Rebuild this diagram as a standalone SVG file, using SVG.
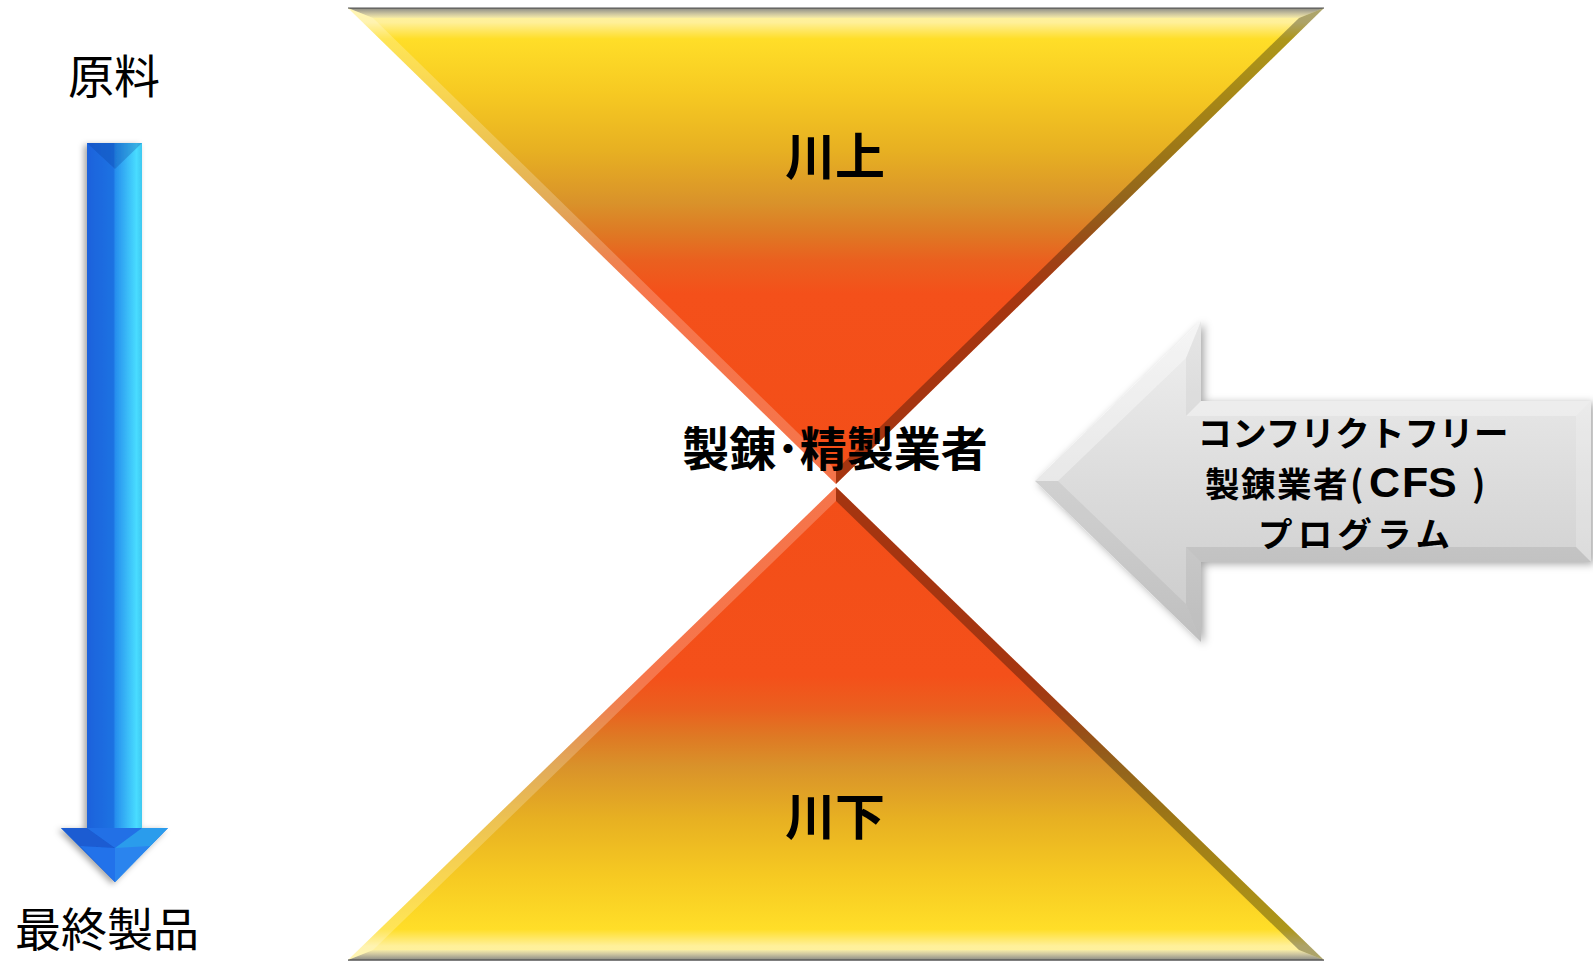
<svg xmlns="http://www.w3.org/2000/svg" width="1593" height="962" viewBox="0 0 1593 962">
<defs>
<style>
.jp{font-family:"Noto Sans CJK JP","Noto Sans CJK SC",sans-serif;fill:#000}
.lbl{font-size:46px;font-weight:400}
.big{font-size:50px;font-weight:700}
.mid{font-size:47px;font-weight:700}
.cfs{font-size:34.5px;font-weight:700}
.lat{font-family:"Liberation Sans",Arial,sans-serif;font-size:43px;font-weight:700}
</style>
<linearGradient id="gTri" x1="0" y1="8" x2="0" y2="484" gradientUnits="userSpaceOnUse">
<stop offset="0" stop-color="#FFF4A0"/>
<stop offset="0.03" stop-color="#FFF09A"/>
<stop offset="0.065" stop-color="#FFDE28"/>
<stop offset="0.18" stop-color="#F6C922"/>
<stop offset="0.3" stop-color="#E7B022"/>
<stop offset="0.41" stop-color="#D9922A"/>
<stop offset="0.47" stop-color="#DE7A24"/>
<stop offset="0.53" stop-color="#EA601F"/>
<stop offset="0.6" stop-color="#F4501A"/>
<stop offset="1" stop-color="#F34E18"/>
</linearGradient>
<linearGradient id="gTopBevel" x1="0" y1="8" x2="0" y2="18" gradientUnits="userSpaceOnUse">
<stop offset="0" stop-color="#6A6A66"/>
<stop offset="0.15" stop-color="#9C9A8C"/>
<stop offset="0.6" stop-color="#CFC7A0"/>
<stop offset="1" stop-color="#F6EBA6"/>
</linearGradient>
<linearGradient id="gBlue" x1="87" y1="0" x2="142" y2="0" gradientUnits="userSpaceOnUse">
<stop offset="0" stop-color="#1A62DC"/>
<stop offset="0.48" stop-color="#1E72E2"/>
<stop offset="0.52" stop-color="#2790EE"/>
<stop offset="0.9" stop-color="#48DCFF"/>
<stop offset="1" stop-color="#3FC8F0"/>
</linearGradient>
<linearGradient id="gGrey" x1="0" y1="321" x2="0" y2="642" gradientUnits="userSpaceOnUse">
<stop offset="0" stop-color="#F0F0F0"/>
<stop offset="0.5" stop-color="#DCDCDC"/>
<stop offset="1" stop-color="#CACACA"/>
</linearGradient>
<filter id="shBlue" x="-50%" y="-10%" width="200%" height="120%">
<feDropShadow dx="-3" dy="2" stdDeviation="3" flood-color="#000" flood-opacity="0.35"/>
</filter>
<filter id="shGrey" x="-10%" y="-20%" width="120%" height="140%">
<feDropShadow dx="3" dy="2" stdDeviation="4" flood-color="#000" flood-opacity="0.35"/>
</filter>
<g id="triShape">
<polygon points="348,8 1324,8 836,484" fill="url(#gTri)"/>
<polygon points="348,8 1324,8 1299,18 373,18" fill="url(#gTopBevel)"/>
<polygon points="348,8 373,18 836,470 836,484" fill="#FFFFFF" fill-opacity="0.22"/>
<polygon points="1324,8 1299,18 836,470 836,484" fill="#000000" fill-opacity="0.32"/>
<line x1="348" y1="8" x2="1324" y2="8" stroke="#555" stroke-width="1.2"/>
</g>
</defs>

<g id="upstream">
<use href="#triShape"/>
<text class="jp big" x="835" y="175" text-anchor="middle">川上</text>
</g>

<g id="downstream">
<use href="#triShape" transform="matrix(1 0 0 -0.9937 0 968)"/>
<text class="jp big" x="835" y="835" text-anchor="middle">川下</text>
</g>

<g id="smelter">
<text class="jp mid" x="835" y="466" text-anchor="middle">製錬･精製業者</text>
</g>

<g id="connectors">
<g id="flow-arrow" filter="url(#shBlue)">
<rect x="87" y="143" width="55" height="686" fill="url(#gBlue)"/>
<polygon points="87,143 142,143 115,169" fill="#0A3C9A" fill-opacity="0.28"/>
<polygon points="61,828 168,828 115,882" fill="#2270E6"/>
<polygon points="61,828 87,828 115,848 115,882" fill="#1A5CD2"/>
<polygon points="142,828 168,828 115,882 115,848" fill="#2A9CEC"/>
<polygon points="115,848 115,882 80,846" fill="#2272EA"/>
<polygon points="115,848 115,882 150,846" fill="#2A84EE"/>
</g>
</g>

<g id="raw-material">
<text class="jp lbl" x="114" y="93" text-anchor="middle">原料</text>
</g>
<g id="end-product">
<text class="jp lbl" x="107" y="946" text-anchor="middle">最終製品</text>
</g>

<g id="cfs-program">
<g filter="url(#shGrey)">
<polygon points="1035,481 1201,321 1201,401 1591,401 1591,562 1201,562 1201,642" fill="url(#gGrey)"/>
</g>
<polygon points="1035,481 1201,321 1186,358 1058,481" fill="#FFFFFF" fill-opacity="0.35"/>
<polygon points="1035,481 1058,481 1186,604 1201,642" fill="#000000" fill-opacity="0.05"/>
<polygon points="1201,321 1201,401 1186,416 1186,358" fill="#000000" fill-opacity="0.04"/>
<polygon points="1201,401 1591,401 1576,416 1186,416" fill="#FFFFFF" fill-opacity="0.3"/>
<polygon points="1591,401 1591,562 1576,547 1576,416" fill="#FFFFFF" fill-opacity="0.2"/>
<polygon points="1201,562 1591,562 1576,547 1186,547" fill="#000000" fill-opacity="0.08"/>
<polygon points="1201,562 1201,642 1186,604 1186,547" fill="#000000" fill-opacity="0.06"/>
<text class="jp cfs" x="1353" y="446" text-anchor="middle" textLength="311" lengthAdjust="spacing">コンフリクトフリー</text>
<text class="jp cfs" y="497"><tspan x="1205">製</tspan><tspan x="1241">錬</tspan><tspan x="1277">業</tspan><tspan x="1313">者</tspan><tspan x="1350" font-size="35.5">(</tspan><tspan class="lat" x="1369">C</tspan><tspan class="lat" x="1402">F</tspan><tspan class="lat" x="1428">S</tspan><tspan x="1472" font-size="35.5">)</tspan></text>
<text class="jp cfs" x="1354" y="547" text-anchor="middle" textLength="192" lengthAdjust="spacing">プログラム</text>
</g>
</svg>
